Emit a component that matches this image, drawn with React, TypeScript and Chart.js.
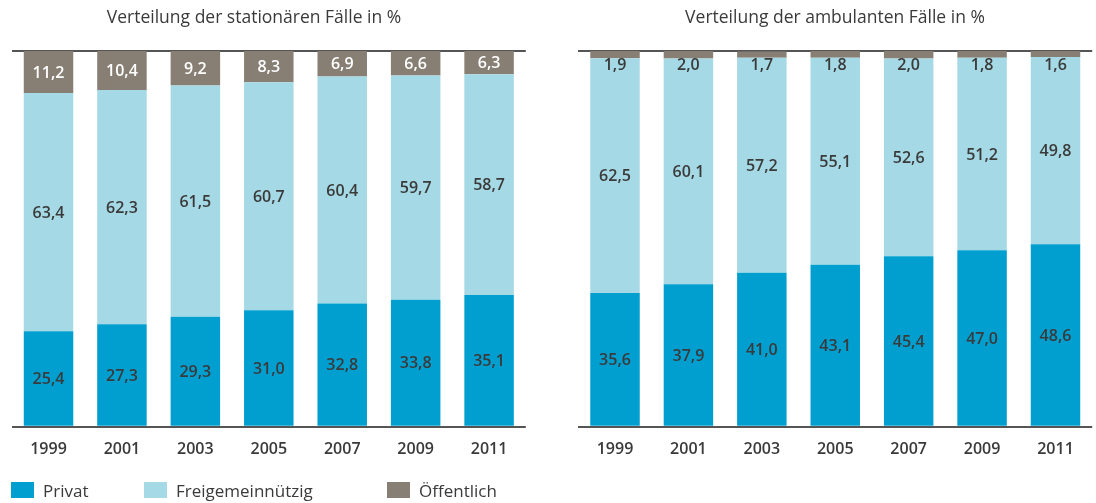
import React, { useEffect, useRef } from "react";
import { Chart, registerables } from "chart.js";

Chart.register(...registerables);

const years = ["1999", "2001", "2003", "2005", "2007", "2009", "2011"];
const seriesNames = ["Privat", "Freigemeinnützig", "Öffentlich"];
const seriesColors = ["#009fd0", "#a5d9e5", "#877f74"];

const statPrivat = [25.4, 27.3, 29.3, 31.0, 32.8, 33.8, 35.1];
const statFrei = [63.4, 62.3, 61.5, 60.7, 60.4, 59.7, 58.7];
const statOeff = [11.2, 10.4, 9.2, 8.3, 6.9, 6.6, 6.3];

const ambPrivat = [35.6, 37.9, 41.0, 43.1, 45.4, 47.0, 48.6];
const ambFrei = [62.5, 60.1, 57.2, 55.1, 52.6, 51.2, 49.8];
const ambOeff = [1.9, 2.0, 1.7, 1.8, 2.0, 1.8, 1.6];

const titleStat = "Verteilung der stationären Fälle in %";
const titleAmb = "Verteilung der ambulanten Fälle in %";

const FONT = "'Open Sans', sans-serif";
const TEXT = "#3a3a3a";

const valueLabels = {
  id: "valueLabels",
  afterDatasetsDraw(chart: any) {
    const ctx = chart.ctx;
    ctx.save();
    ctx.font = `600 16px ${FONT}`;
    ctx.textAlign = "center";
    ctx.textBaseline = "middle";
    chart.data.datasets.forEach((ds: any, di: number) => {
      const meta = chart.getDatasetMeta(di);
      meta.data.forEach((bar: any, i: number) => {
        const v = ds.data[i];
        const txt = v.toFixed(1).replace(".", ",");
        const top = Math.min(bar.y, bar.base);
        const bottom = Math.max(bar.y, bar.base);
        const h = bottom - top;
        let y = (top + bottom) / 2 + 1;
        let color = di === 2 ? "#ffffff" : TEXT;
        if (h < 16) {
          y = top + 14;
          color = TEXT;
        }
        ctx.fillStyle = color;
        ctx.fillText(txt, bar.x, y);
      });
    });
    ctx.restore();
  },
};

const headTitle = {
  id: "headTitle",
  afterDraw(chart: any, _args: any, opts: any) {
    const ctx = chart.ctx;
    ctx.save();
    ctx.font = `500 17.5px ${FONT}`;
    ctx.fillStyle = TEXT;
    ctx.textAlign = "center";
    ctx.textBaseline = "middle";
    ctx.fillText(opts.text, opts.x, opts.y);
    ctx.restore();
  },
};

function StackChart(props: {
  title: string;
  titleX: number;
  data: number[][];
  width: number;
  height: number;
  left: number;
  padL: number;
  padR: number;
}) {
  const ref = useRef<HTMLCanvasElement | null>(null);
  useEffect(() => {
    if (!ref.current) return;
    const chart = new Chart(ref.current, {
      type: "bar",
      data: {
        labels: years,
        datasets: props.data.map((d, i) => ({
          label: seriesNames[i],
          data: d,
          backgroundColor: seriesColors[i],
          borderWidth: 0,
          categoryPercentage: 1,
          barPercentage: 0.674,
        })),
      },
      options: {
        responsive: false,
        maintainAspectRatio: false,
        animation: false,
        layout: { padding: { left: props.padL, right: props.padR, top: 51, bottom: 12 } },
        plugins: {
          legend: { display: false },
          tooltip: { enabled: false },
          title: { display: false },
          headTitle: { text: props.title, x: props.titleX, y: 18 },
        },
        scales: {
          x: {
            stacked: true,
            grid: { display: false, drawTicks: false },
            border: { display: false },
            ticks: { color: TEXT, font: { family: FONT, size: 16, weight: 600 }, padding: 13 },
          },
          y: {
            stacked: true,
            min: 0,
            max: 100,
            z: 1,
            ticks: { display: false, stepSize: 100 },
            grid: { color: "#555555", lineWidth: 2, drawTicks: false },
            border: { display: false },
          },
        },
      },
      plugins: [valueLabels, headTitle],
    } as any);
    return () => chart.destroy();
  }, []);
  return (
    <canvas
      ref={ref}
      width={props.width}
      height={props.height}
      style={{ position: "absolute", left: props.left, top: 0, width: props.width, height: props.height }}
    />
  );
}

const legendPos = [11, 144, 387];

export default function App() {
  return (
    <div
      style={{
        position: "fixed",
        left: 0,
        top: 0,
        width: 1096,
        height: 503,
        background: "#ffffff",
        overflow: "hidden",
      }}
    >
      <StackChart
        title={titleStat}
        titleX={254}
        data={[statPrivat, statFrei, statOeff]}
        width={556}
        height={484}
        left={0}
        padL={11.8}
        padR={30.2}
      />
      <StackChart
        title={titleAmb}
        titleX={835 - 556}
        data={[ambPrivat, ambFrei, ambOeff]}
        width={540}
        height={484}
        left={556}
        padL={22.3}
        padR={3.8}
      />
      {seriesNames.map((n, i) => (
        <div
          key={n}
          style={{
            position: "absolute",
            left: legendPos[i],
            top: 478,
            height: 24,
            display: "flex",
            alignItems: "center",
            fontFamily: FONT,
            fontSize: 17,
            color: TEXT,
            whiteSpace: "nowrap",
          }}
        >
          <span
            style={{
              display: "inline-block",
              width: 23,
              height: 16,
              background: seriesColors[i],
              marginRight: 9,
            }}
          />
          {n}
        </div>
      ))}
    </div>
  );
}
